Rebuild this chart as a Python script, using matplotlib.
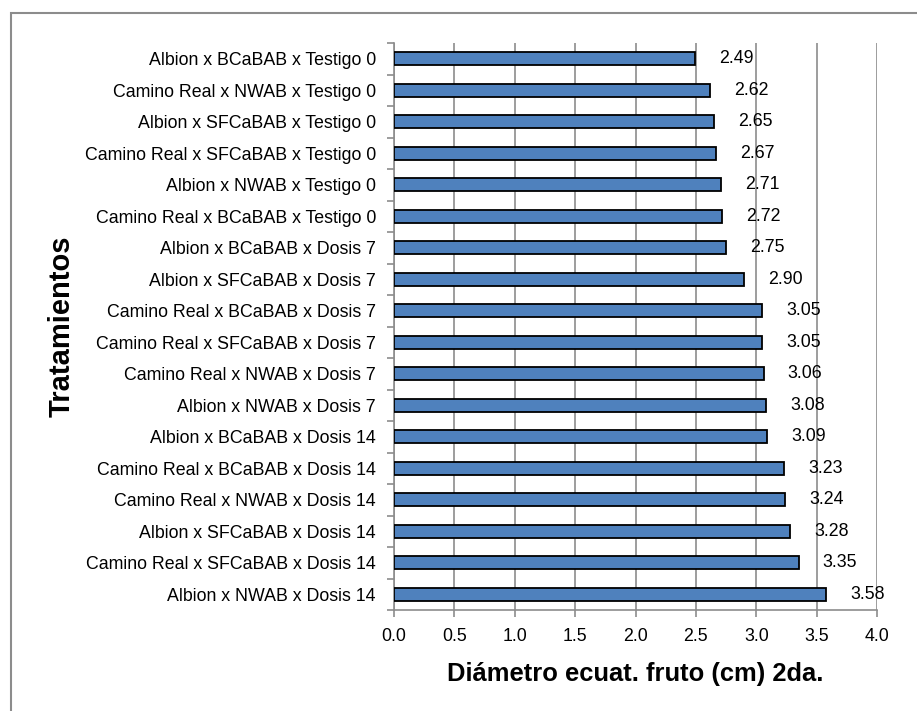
import matplotlib.pyplot as plt
from matplotlib.patches import Rectangle

# treatments, top to bottom as in the chart
tratamientos = [
    "Albion x BCaBAB x Testigo 0",
    "Camino Real x NWAB x Testigo 0",
    "Albion x SFCaBAB x Testigo 0",
    "Camino Real x SFCaBAB x Testigo 0",
    "Albion x NWAB x Testigo 0",
    "Camino Real x BCaBAB x Testigo 0",
    "Albion x BCaBAB x Dosis 7",
    "Albion x SFCaBAB x Dosis 7",
    "Camino Real x BCaBAB x Dosis 7",
    "Camino Real x SFCaBAB x Dosis 7",
    "Camino Real x NWAB x Dosis 7",
    "Albion x NWAB x Dosis 7",
    "Albion x BCaBAB x Dosis 14",
    "Camino Real x BCaBAB x Dosis 14",
    "Camino Real x NWAB x Dosis 14",
    "Albion x SFCaBAB x Dosis 14",
    "Camino Real x SFCaBAB x Dosis 14",
    "Albion x NWAB x Dosis 14",
]
diametro = [2.49, 2.62, 2.65, 2.67, 2.71, 2.72, 2.75, 2.90, 3.05, 3.05,
            3.06, 3.08, 3.09, 3.23, 3.24, 3.28, 3.35, 3.58]
xticks = [0.0, 0.5, 1.0, 1.5, 2.0, 2.5, 3.0, 3.5, 4.0]

plt.rcParams['font.family'] = ['Liberation Sans', 'DejaVu Sans']

fig = plt.figure(figsize=(9.17, 7.11), dpi=100)
ax = fig.add_axes([0.4297, 0.142, 0.5267, 0.7975])

# outer chart border (cropped at right and bottom)
fig.patches.append(Rectangle((11 / 917, -0.05), 1.0, 1 - 13 / 711 + 0.05,
                             transform=fig.transFigure, fill=False,
                             edgecolor='#8c8c8c', linewidth=1.5))

y = list(range(len(tratamientos)))
ax.barh(y, diametro, height=0.41, color='#4f81bd', edgecolor='black',
        linewidth=1.3, zorder=3)
for yi, v in zip(y, diametro):
    ax.text(v + 0.2, yi, f"{v:.2f}", va='center', ha='left', fontsize=12.8,
            zorder=4)

ax.set_ylim(len(tratamientos) - 0.5, -0.5)
ax.set_xlim(0, 4.0)
ax.set_xticks(xticks)
ax.set_xticklabels([f"{t:.1f}" for t in xticks], fontsize=12.8)
ax.set_yticks(y)
ax.set_yticklabels(tratamientos, fontsize=12.8)
ax.set_yticks([i - 0.5 for i in range(len(tratamientos) + 1)], minor=True)
ax.tick_params(axis='y', which='major', length=0, pad=13)
ax.tick_params(axis='y', which='minor', length=5, color='#8c8c8c', width=1.2)
ax.tick_params(axis='x', length=5, color='#8c8c8c', width=1.2, pad=8)

ax.grid(axis='x', color='#8c8c8c', linewidth=1.2, zorder=0)
for s in ['top', 'right']:
    ax.spines[s].set_visible(False)
for s in ['left', 'bottom']:
    ax.spines[s].set_color('#8c8c8c')
    ax.spines[s].set_linewidth(1.2)

ax.set_xlabel("Diámetro ecuat. fruto (cm) 2da.", fontsize=18.4, fontweight='bold',
              labelpad=12)
fig.text(62 / 917, 1 - 326 / 711, "Tratamientos", rotation=90, fontsize=21,
         fontweight='bold', ha='center', va='center')

fig.savefig("out.png", dpi=100)
